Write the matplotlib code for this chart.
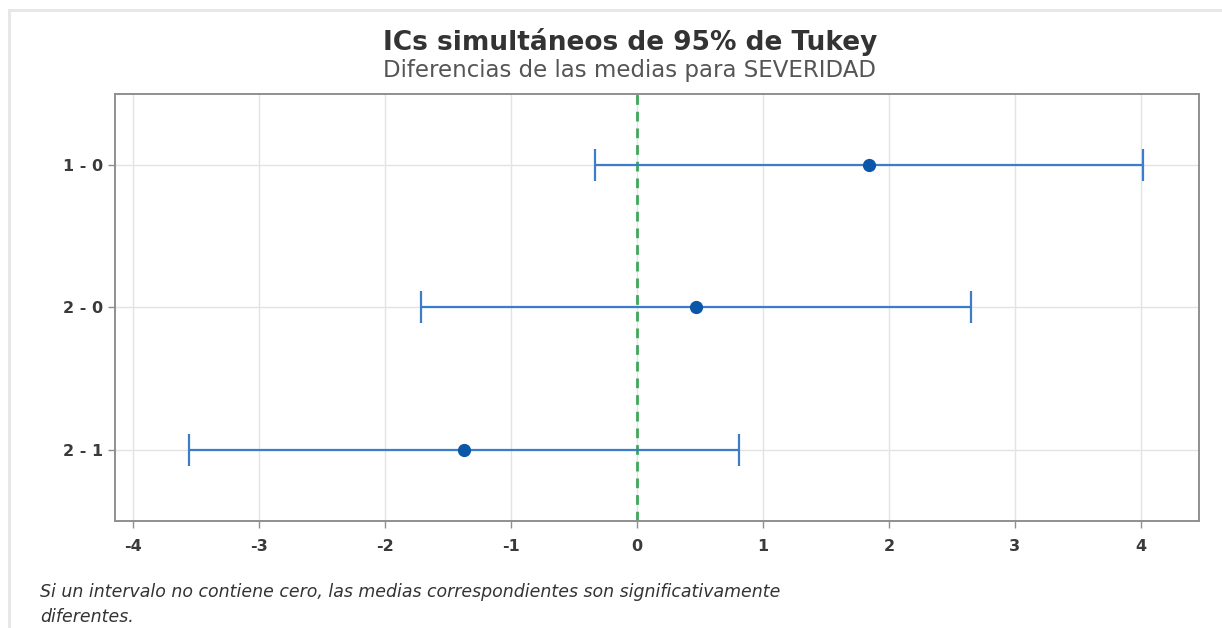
import matplotlib.pyplot as plt
from matplotlib.lines import Line2D

# Tukey simultaneous 95% intervals for SEVERIDAD pairwise differences
pairs = ["1 - 0", "2 - 0", "2 - 1"]
diff_mean = [1.84, 0.47, -1.37]
ci_lower = [-0.33, -1.71, -3.55]
ci_upper = [4.02, 2.65, 0.81]

plt.rcParams['font.family'] = ['DejaVu Sans']
plt.rcParams['axes.unicode_minus'] = False

fig = plt.figure(figsize=(12.22, 6.28), dpi=100)
ax = fig.add_axes([0.0941, 0.1704, 0.887, 0.680])

ypos = list(range(len(pairs)))
err_lo = [m - lo for m, lo in zip(diff_mean, ci_lower)]
err_hi = [hi - m for m, hi in zip(diff_mean, ci_upper)]

ax.grid(True, color="#e3e3e3", linewidth=1.0, zorder=0)
ax.axvline(0, color="#3fa85a", linestyle=(0, (3.5, 2.5)), linewidth=2.0, zorder=2)
ax.errorbar(diff_mean, ypos, xerr=[err_lo, err_hi], fmt="none",
            ecolor="#3b7dc9", elinewidth=1.6, capsize=11.5, capthick=1.6, zorder=3)
ax.plot(diff_mean, ypos, "o", color="#0a56a8", markersize=8.5, zorder=4)

ax.set_xlim(-4.14, 4.46)
ax.set_ylim(2.5, -0.5)
ax.set_xticks(range(-4, 5))
ax.set_yticks(ypos)
ax.set_yticklabels(pairs)
ax.set_axisbelow(True)

for side in ax.spines.values():
    side.set_color("#8f8f8f")
    side.set_linewidth(1.4)
ax.tick_params(axis="both", colors="#8f8f8f", length=5, width=1.0,
               labelcolor="#3a3a3a", labelsize=11.5)
ax.tick_params(axis="x", pad=8)
for lbl in ax.get_xticklabels() + ax.get_yticklabels():
    lbl.set_fontweight("bold")

fig.text(0.5155, 0.933, "ICs simultáneos de 95% de Tukey", ha="center", va="center",
         fontsize=19, fontweight="bold", color="#333333")
fig.text(0.5155, 0.888, "Diferencias de las medias para SEVERIDAD", ha="center",
         va="center", fontsize=16.5, color="#555555")

fig.text(0.033, 0.057, "Si un intervalo no contiene cero, las medias correspondientes son significativamente",
         ha="left", va="center", fontsize=12.5, style="italic", color="#333333")
fig.text(0.033, 0.018, "diferentes.", ha="left", va="center", fontsize=12.5,
         style="italic", color="#333333")

# light frame along the left and top edges
fig.add_artist(Line2D([0.0074, 0.0074], [0, 0.984], color="#e6e6e6", linewidth=2,
                      transform=fig.transFigure))
fig.add_artist(Line2D([0.0074, 1.0], [0.984, 0.984], color="#e6e6e6", linewidth=2,
                      transform=fig.transFigure))

fig.savefig("out.png", dpi=100)
